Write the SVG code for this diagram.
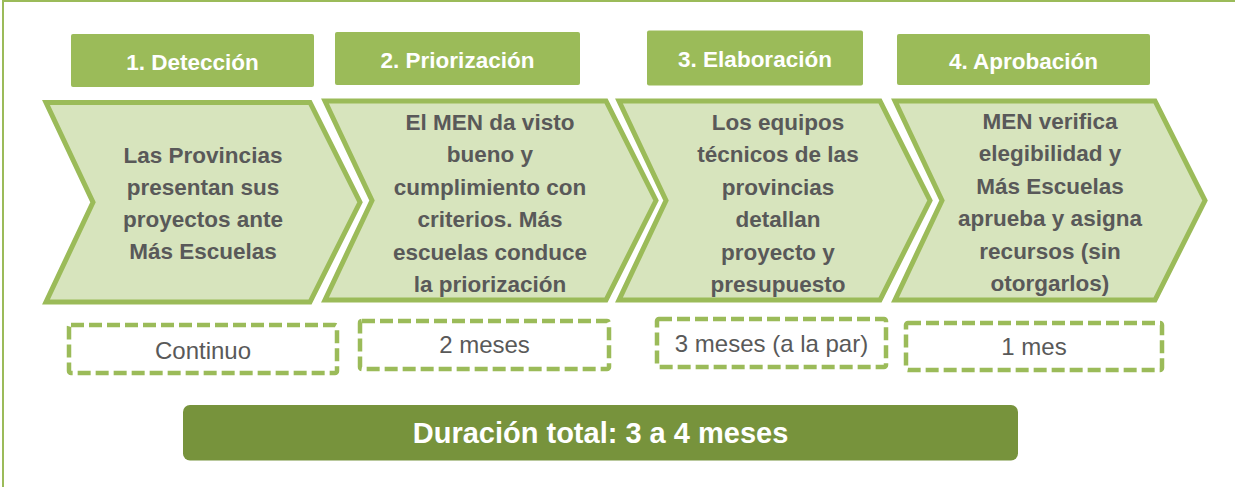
<svg xmlns="http://www.w3.org/2000/svg" width="1235" height="487" viewBox="0 0 1235 487">
<style>
.hdr{fill:#9BBB59}
.hdrt{font-family:"Liberation Sans",Arial,sans-serif;font-weight:bold;font-size:22.5px;fill:#FFFFFF;text-anchor:middle}
.chev{fill:#D7E4BD;stroke:#9BBB59;stroke-width:5;stroke-linejoin:miter}
.body{font-family:"Liberation Sans",Arial,sans-serif;font-weight:bold;font-size:22.5px;fill:#595959;text-anchor:middle}
.dash{fill:#FFFFFF;stroke:#9BBB59;stroke-width:4.5;stroke-dasharray:13 5}
.dur{font-family:"Liberation Sans",Arial,sans-serif;font-size:24px;fill:#595959;text-anchor:middle}
.tot{font-family:"Liberation Sans",Arial,sans-serif;font-weight:bold;font-size:29px;fill:#FFFFFF;text-anchor:middle}
</style>
<rect x="0" y="0" width="1235" height="487" fill="#FFFFFF"/>
<rect x="3" y="1" width="1245" height="500" fill="none" stroke="#9BBB59" stroke-width="2"/>

<g id="step1">
  <rect class="hdr" x="71" y="34" width="243" height="53" rx="2"/>
  <text class="hdrt" x="192.5" y="70">1. Detección</text>
  <polygon class="chev" points="46,102.5 310,102.5 360,202.25 310,302 46,302 93,202.25"/>
  <text class="body" x="203" y="163">Las Provincias</text>
  <text class="body" x="203" y="195">presentan sus</text>
  <text class="body" x="203" y="227">proyectos ante</text>
  <text class="body" x="203" y="259">Más Escuelas</text>
</g>

<g id="step2">
  <rect class="hdr" x="335" y="32" width="245" height="53" rx="2"/>
  <text class="hdrt" x="457.5" y="68">2. Priorización</text>
  <polygon class="chev" points="325,101 606,101 656,200.5 606,300 325,300 372,200.5"/>
  <text class="body" x="490" y="129.5">El MEN da visto</text>
  <text class="body" x="490" y="162">bueno y</text>
  <text class="body" x="490" y="194.5">cumplimiento con</text>
  <text class="body" x="490" y="227">criterios. Más</text>
  <text class="body" x="490" y="259.5">escuelas conduce</text>
  <text class="body" x="490" y="292">la priorización</text>
</g>

<g id="step3">
  <rect class="hdr" x="647" y="30.5" width="216" height="55" rx="2"/>
  <text class="hdrt" x="755" y="67">3. Elaboración</text>
  <polygon class="chev" points="619,101 880,101 930,200.5 880,300 619,300 666,200.5"/>
  <text class="body" x="778" y="129.5">Los equipos</text>
  <text class="body" x="778" y="162">técnicos de las</text>
  <text class="body" x="778" y="194.5">provincias</text>
  <text class="body" x="778" y="227">detallan</text>
  <text class="body" x="778" y="259.5">proyecto y</text>
  <text class="body" x="778" y="292">presupuesto</text>
</g>

<g id="step4">
  <rect class="hdr" x="897" y="34" width="253" height="51" rx="2"/>
  <text class="hdrt" x="1023.5" y="69">4. Aprobación</text>
  <polygon class="chev" points="895,101 1155,101 1205,200.5 1155,300 895,300 942,200.5"/>
  <text class="body" x="1050" y="128.5">MEN verifica</text>
  <text class="body" x="1050" y="161">elegibilidad y</text>
  <text class="body" x="1050" y="193.5">Más Escuelas</text>
  <text class="body" x="1050" y="226">aprueba y asigna</text>
  <text class="body" x="1050" y="258.5">recursos (sin</text>
  <text class="body" x="1050" y="291">otorgarlos)</text>
</g>

<g id="dur1">
  <rect class="dash" x="69" y="325" width="268" height="48" rx="2"/>
  <text class="dur" x="203" y="359">Continuo</text>
</g>
<g id="dur2">
  <rect class="dash" x="360" y="321" width="249" height="48" rx="2"/>
  <text class="dur" x="484.5" y="353">2 meses</text>
</g>
<g id="dur3">
  <rect class="dash" x="657" y="319" width="229" height="48" rx="2"/>
  <text class="dur" x="771.5" y="352">3 meses (a la par)</text>
</g>
<g id="dur4">
  <rect class="dash" x="906" y="323" width="256" height="47" rx="2"/>
  <text class="dur" x="1034" y="355">1 mes</text>
</g>

<g id="total">
  <rect x="183" y="405" width="835" height="55.5" rx="7" fill="#77933C"/>
  <text class="tot" x="600.5" y="443">Duración total: 3 a 4 meses</text>
</g>

<g id="connectors"></g>
</svg>
